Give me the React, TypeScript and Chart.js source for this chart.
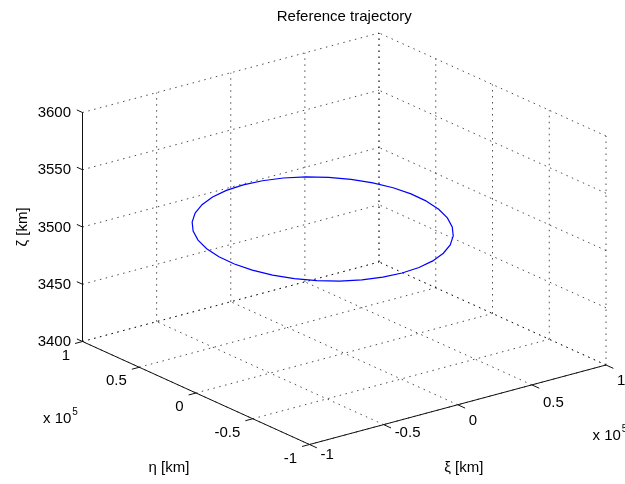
import React, { useEffect, useRef } from "react";
import { Chart, registerables } from "chart.js";

Chart.register(...registerables);

// ---------- text ----------
const TITLE = "Reference trajectory";
const XI_LABEL = "ξ [km]";
const ETA_LABEL = "η [km]";
const ZETA_LABEL = "ζ [km]";
const EXP_BASE = "x 10";
const EXP_POWER = "5";
const AXIS_UNIT = 1e5; // ξ and η ticks are shown in units of 10^5 km

// ---------- ticks ----------
const xiTicks = [-1, -0.5, 0, 0.5, 1];
const xiTickLabels = ["-1", "-0.5", "0", "0.5", "1"];
const etaTicks = [-1, -0.5, 0, 0.5, 1];
const etaTickLabels = ["-1", "-0.5", "0", "0.5", "1"];
const zetaTicks = [3400, 3450, 3500, 3550, 3600];
const zetaTickLabels = ["3400", "3450", "3500", "3550", "3600"];

// ---------- trajectory (km) ----------
const trajXi = [
  70000, 68900, 65800, 60600, 53600, 45000, 35000, 23900, 12200, 0,
  -12200, -23900, -35000, -45000, -53600, -60600, -65800, -68900, -70000,
  -68900, -65800, -60600, -53600, -45000, -35000, -23900, -12200, 0,
  12200, 23900, 35000, 45000, 53600, 60600, 65800, 68900, 70000,
];
const trajEta = [
  19000, 31200, 42900, 54000, 64000, 72600, 79600, 84800, 87900, 89000,
  87900, 84800, 79600, 72600, 64000, 54000, 42900, 31200, 19000,
  6800, -4900, -16000, -26000, -34600, -41600, -46800, -49900, -51000,
  -49900, -46800, -41600, -34600, -26000, -16000, -4900, 6800, 19000,
];
const trajZeta = [
  3500.0, 3501.2, 3502.4, 3503.5, 3504.5, 3505.4, 3506.1, 3506.6, 3506.9, 3507.0,
  3506.9, 3506.6, 3506.1, 3505.4, 3504.5, 3503.5, 3502.4, 3501.2, 3500.0,
  3498.8, 3497.6, 3496.5, 3495.5, 3494.6, 3493.9, 3493.4, 3493.1, 3493.0,
  3493.1, 3493.4, 3493.9, 3494.6, 3495.5, 3496.5, 3497.6, 3498.8, 3500.0,
];

// ---------- layout / view (orthographic projection of the 3-D box) ----------
const W = 625;
const H = 484;
const FONT = '"Liberation Sans", Arial, Helvetica, sans-serif';
const VIEW = {
  ox: 344.25, // screen position of (ξ=0, η=0, ζ=zMin)
  oy: 353.25,
  xiX: 148.25, // screen step per 1 unit of ξ (x10^5 km)
  xiY: -39.75,
  etaX: -113.5, // screen step per 1 unit of η
  etaY: -51.5,
  zY: -1.145, // screen step per km of ζ
};

type P3 = [number, number, number];

function project(xi: number, eta: number, z: number, z0: number) {
  return {
    x: VIEW.ox + xi * VIEW.xiX + eta * VIEW.etaX,
    y: VIEW.oy + xi * VIEW.xiY + eta * VIEW.etaY + (z - z0) * VIEW.zY,
  };
}

export default function App() {
  const ref = useRef<HTMLCanvasElement | null>(null);

  useEffect(() => {
    if (!ref.current) return;
    const xiMin = Math.min(...xiTicks);
    const xiMax = Math.max(...xiTicks);
    const etaMin = Math.min(...etaTicks);
    const etaMax = Math.max(...etaTicks);
    const zMin = Math.min(...zetaTicks);
    const zMax = Math.max(...zetaTicks);
    const P = (p: P3) => project(p[0], p[1], p[2], zMin);

    const gridSegs: [P3, P3][] = [];
    xiTicks.forEach((xi) => {
      gridSegs.push([[xi, etaMin, zMin], [xi, etaMax, zMin]]); // floor
      gridSegs.push([[xi, etaMax, zMin], [xi, etaMax, zMax]]); // back wall η = max
    });
    etaTicks.forEach((eta) => {
      gridSegs.push([[xiMin, eta, zMin], [xiMax, eta, zMin]]); // floor
      gridSegs.push([[xiMax, eta, zMin], [xiMax, eta, zMax]]); // back wall ξ = max
    });
    zetaTicks.forEach((z) => {
      gridSegs.push([[xiMin, etaMax, z], [xiMax, etaMax, z]]);
      gridSegs.push([[xiMax, etaMin, z], [xiMax, etaMax, z]]);
    });

    const axisSegs: [P3, P3][] = [
      [[xiMin, etaMin, zMin], [xiMax, etaMin, zMin]], // ξ axis
      [[xiMin, etaMin, zMin], [xiMin, etaMax, zMin]], // η axis
      [[xiMin, etaMax, zMin], [xiMin, etaMax, zMax]], // ζ axis
    ];
    const tickSegs: [P3, P3][] = [];
    xiTicks.forEach((xi) => tickSegs.push([[xi, etaMin, zMin], [xi, etaMin - 0.065, zMin]]));
    etaTicks.forEach((eta) => tickSegs.push([[xiMin, eta, zMin], [xiMin - 0.05, eta, zMin]]));
    zetaTicks.forEach((z) => tickSegs.push([[xiMin, etaMax, z], [xiMin, etaMax + 0.05, z]]));

    const trajPts = trajXi.map((xi, i) =>
      project(xi / AXIS_UNIT, trajEta[i] / AXIS_UNIT, trajZeta[i], zMin)
    );

    const lineDs = (pts: { x: number; y: number }[], color: string, width: number, dash: number[] = []) => ({
      data: pts,
      showLine: true,
      borderColor: color,
      backgroundColor: color,
      borderWidth: width,
      borderDash: dash,
      pointRadius: 0,
      pointHoverRadius: 0,
      fill: false,
      tension: 0,
      clip: false as any,
    });

    const datasets: any[] = [];
    datasets.push(lineDs(trajPts, "#0000ff", 1.2));
    axisSegs.forEach((s) => datasets.push(lineDs([P(s[0]), P(s[1])], "#111", 1)));
    tickSegs.forEach((s) => datasets.push(lineDs([P(s[0]), P(s[1])], "#111", 1)));
    gridSegs.forEach((s) => datasets.push(lineDs([P(s[0]), P(s[1])], "rgba(0,0,0,0.7)", 1, [1.5, 4.5])));

    const xiNudge = [9, 7, 15, 17, 15];

    const labelPlugin = {
      id: "labels3d",
      afterDraw(chart: any) {
        const ctx = chart.ctx as CanvasRenderingContext2D;
        const sx = chart.scales.x;
        const sy = chart.scales.y;
        const px = (p: { x: number; y: number }) => ({
          x: sx.getPixelForValue(p.x),
          y: sy.getPixelForValue(p.y),
        });
        ctx.save();
        ctx.fillStyle = "#000";
        ctx.font = `15px ${FONT}`;

        // title
        const left = px(P([xiMin, etaMax, zMin]));
        const right = px(P([xiMax, etaMin, zMin]));
        ctx.textAlign = "center";
        ctx.textBaseline = "alphabetic";
        ctx.fillText(TITLE, (left.x + right.x) / 2, 21);

        // ζ tick labels
        ctx.textAlign = "right";
        zetaTicks.forEach((z, i) => {
          const p = px(P([xiMin, etaMax, z]));
          ctx.fillText(zetaTickLabels[i], p.x - 11.5, p.y + 4.5);
        });
        // η tick labels
        etaTicks.forEach((eta, i) => {
          const p = px(P([xiMin, eta, zMin]));
          ctx.fillText(etaTickLabels[i], p.x - 12.5, p.y + 18);
        });
        // ξ tick labels
        ctx.textAlign = "left";
        xiTicks.forEach((xi, i) => {
          const p = px(P([xi, etaMin, zMin]));
          ctx.fillText(xiTickLabels[i], p.x + 11, p.y + xiNudge[i] + 5.3);
        });

        // exponents
        const etaMid = px(P([xiMin, 0, zMin]));
        const xiEnd = px(P([xiMax, etaMin, zMin]));
        const drawExp = (x: number, y: number) => {
          ctx.font = `15px ${FONT}`;
          ctx.textAlign = "left";
          ctx.fillText(EXP_BASE, x, y);
          const w = ctx.measureText(EXP_BASE).width;
          ctx.font = `10px ${FONT}`;
          ctx.fillText(EXP_POWER, x + w + 1, y - 8);
        };
        drawExp(etaMid.x - 153, etaMid.y + 30);
        drawExp(xiEnd.x - 13.5, xiEnd.y + 75);

        // axis labels
        ctx.font = `15px ${FONT}`;
        ctx.textAlign = "center";
        ctx.textBaseline = "middle";
        ctx.fillText(ETA_LABEL, etaMid.x - 27, 468);
        const xiMid = px(P([0, etaMin, zMin]));
        ctx.fillText(XI_LABEL, xiMid.x + 6, 468);
        const zTop = px(P([xiMin, etaMax, zMax]));
        const zBot = px(P([xiMin, etaMax, zMin]));
        ctx.translate(zTop.x - 60, (zTop.y + zBot.y) / 2);
        ctx.rotate(-Math.PI / 2);
        ctx.fillText(ZETA_LABEL, 0, 0);
        ctx.restore();
      },
    };

    const chart = new Chart(ref.current, {
      type: "scatter",
      data: { datasets },
      options: {
        animation: false,
        responsive: false,
        events: [],
        layout: { padding: 0 },
        plugins: { legend: { display: false }, tooltip: { enabled: false }, title: { display: false } },
        scales: {
          x: { type: "linear", min: 0, max: W, display: false },
          y: { type: "linear", min: 0, max: H, reverse: true, display: false },
        },
      },
      plugins: [labelPlugin],
    } as any);

    return () => chart.destroy();
  }, []);

  return (
    <div style={{ position: "fixed", left: 0, top: 0, width: W, height: H, background: "#fff" }}>
      <canvas ref={ref} width={W} height={H} style={{ display: "block" }} />
    </div>
  );
}
